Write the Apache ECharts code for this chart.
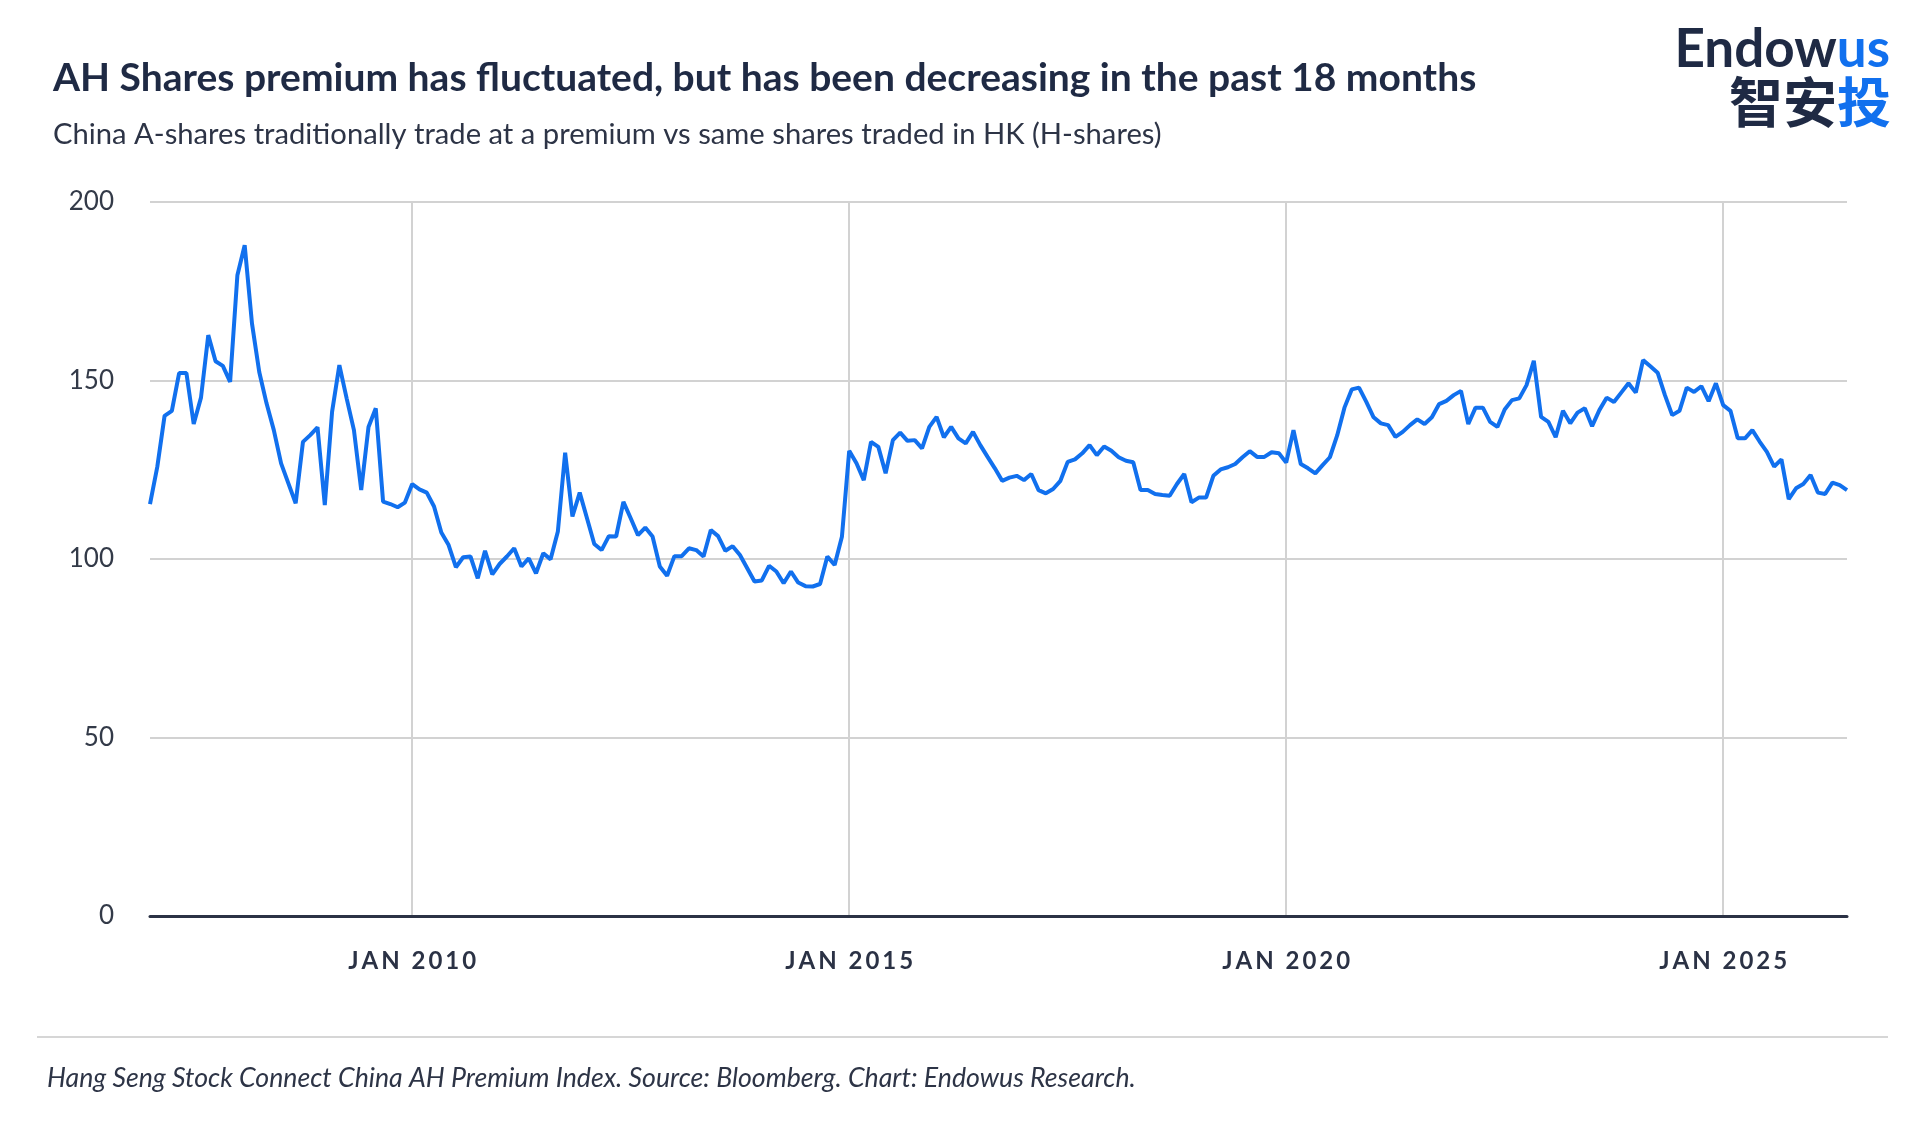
<!DOCTYPE html>
<html>
<head>
<meta charset="utf-8">
<script src="https://cdn.jsdelivr.net/npm/echarts@6/dist/echarts.min.js"></script>
<style>
html,body{margin:0;padding:0;background:#fff;}
#chart{width:1920px;height:1122px;}
</style>
</head>
<body>
<div id="chart"></div>
<script>
// ---- Data (monthly, Jan 2007 onwards) ----
const startYear = 2007;
const premium = [
115.4,125.8,140.1,141.5,152.1,152.1,137.8,145.2,162.7,155.4,154.1,149.6,
179.5,187.9,166.0,152.4,143.6,136.1,126.8,121.2,115.6,132.8,134.7,136.9,
115.1,141.2,154.3,145.0,136.1,119.3,137.0,142.2,116.1,115.4,114.5,115.8,
121.0,119.5,118.6,114.7,107.4,103.9,97.7,100.5,100.7,94.6,102.3,95.7,
98.6,100.7,103.0,97.9,100.2,96.0,101.6,99.9,107.7,129.8,111.9,118.6,
111.4,104.2,102.5,106.4,106.3,116.0,111.4,106.7,108.8,106.3,97.9,95.3,
100.8,100.8,103.0,102.5,100.7,108.1,106.4,102.3,103.6,101.1,97.4,93.7,
94.0,98.1,96.5,93.2,96.5,93.4,92.4,92.3,93.0,100.7,98.3,106.2,
130.3,126.8,122.1,132.8,131.4,124.0,133.3,135.4,133.1,133.3,131.0,137.0,
139.8,134.1,137.0,133.8,132.4,135.6,131.9,128.6,125.4,121.9,122.8,123.3,
122.1,123.8,119.3,118.4,119.6,121.9,127.2,127.9,129.6,131.9,129.1,131.5,
130.3,128.5,127.5,127.1,119.3,119.3,118.2,117.9,117.7,121.0,123.8,115.9,
117.2,117.2,123.3,125.1,125.7,126.6,128.5,130.2,128.6,128.6,129.9,129.6,
127.0,136.1,126.6,125.4,124.0,126.3,128.5,134.6,142.4,147.5,148.0,144.0,
139.7,138.0,137.5,134.2,135.6,137.5,139.1,137.8,139.7,143.4,144.3,145.9,
147.1,137.8,142.4,142.4,138.4,137.0,141.9,144.5,145.0,148.7,155.5,139.8,
138.4,134.1,141.5,138.0,141.0,142.2,137.2,141.7,145.2,144.0,146.6,149.2,
146.6,155.7,154.0,152.2,145.9,140.3,141.5,148.0,146.8,148.4,144.2,149.2,
143.1,141.5,133.8,133.8,136.1,132.9,130.0,125.9,127.9,116.8,119.8,121.0,
123.5,118.6,118.2,121.4,120.7,119.3
];
const monthNames = ['JAN','FEB','MAR','APR','MAY','JUN','JUL','AUG','SEP','OCT','NOV','DEC'];
const categories = premium.map((_, i) => {
  const y = startYear + Math.floor(i / 12);
  const m = i % 12;
  return monthNames[m] + ' ' + y;
});
const labelTicks = ['JAN 2010', 'JAN 2015', 'JAN 2020', 'JAN 2025'];
const yMin = 0, yMax = 200, yStep = 50;

const titleText = 'AH Shares premium has fluctuated, but has been decreasing in the past 18 months';
const subtitleText = 'China A-shares traditionally trade at a premium vs same shares traded in HK (H-shares)';
const footerText = 'Hang Seng Stock Connect China AH Premium Index. Source: Bloomberg. Chart: Endowus Research.';

const NAVY = '#1f2a44';
const BLUE = '#1170ee';
const GRID = '#d2d2d2';

const isLabelTick = (idx, val) => labelTicks.indexOf(val !== undefined ? val : categories[idx]) >= 0;

const chart = echarts.init(document.getElementById('chart'), null, {renderer: 'canvas'});
chart.setOption({
  animation: false,
  backgroundColor: '#ffffff',
  grid: {left: 150, right: 73, top: 202, bottom: 206, containLabel: false},
  xAxis: {
    type: 'category',
    data: categories,
    boundaryGap: false,
    axisLine: {show: true, lineStyle: {color: '#2b3245', width: 3}},
    axisTick: {show: false},
    axisLabel: {
      interval: (idx, val) => isLabelTick(idx, val),
      margin: 33,
      fontFamily: 'Lato',
      fontWeight: 'bold',
      fontSize: 24,
      color: '#2b3245',
      formatter: (val) => val.split('').join('\u2009')
    },
    splitLine: {
      show: true,
      interval: (idx, val) => isLabelTick(idx, val),
      lineStyle: {color: GRID, width: 2}
    }
  },
  yAxis: {
    type: 'value',
    min: yMin, max: yMax, interval: yStep,
    axisLine: {show: false},
    axisTick: {show: false},
    axisLabel: {margin: 36, fontFamily: 'Lato', fontSize: 26, color: '#333a48'},
    splitLine: {show: true, lineStyle: {color: GRID, width: 2}}
  },
  series: [{
    type: 'line',
    data: premium,
    showSymbol: false,
    symbol: 'none',
    lineStyle: {color: BLUE, width: 4},
    z: 5
  }],
  graphic: [
    {type: 'text', x: 53, y: 78, style: {text: titleText, font: 'bold 39px Lato', fill: NAVY, align: 'left', verticalAlign: 'middle', textAlign: 'left', textVerticalAlign: 'middle'}},
    {type: 'text', x: 53, y: 135, style: {text: subtitleText, font: '29.2px Lato', fill: '#2d3446', align: 'left', verticalAlign: 'middle', textAlign: 'left', textVerticalAlign: 'middle'}},
    {type: 'text', x: 1890, y: 50, style: {
      text: '{a|Endow}{b|us}', align: 'right', verticalAlign: 'middle', textAlign: 'right', textVerticalAlign: 'middle',
      rich: {
        a: {font: 'bold 53px Lato', fill: NAVY, color: NAVY},
        b: {font: 'bold 53px Lato', fill: BLUE, color: BLUE}
      }
    }},
    {type: 'text', x: 1891, y: 102, style: {
      text: '{a|智安}{b|投}', align: 'right', verticalAlign: 'middle', textAlign: 'right', textVerticalAlign: 'middle',
      rich: {
        a: {font: 'bold 54px "Noto Sans CJK SC"', fill: NAVY, color: NAVY},
        b: {font: 'bold 54px "Noto Sans CJK SC"', fill: BLUE, color: BLUE}
      }
    }},
    {type: 'line', shape: {x1: 37, y1: 1037, x2: 1888, y2: 1037}, style: {stroke: '#d6d6d6', lineWidth: 2}},
    {type: 'text', x: 47, y: 1078, style: {text: footerText, font: 'italic 26.7px Lato', fill: '#2d3446', align: 'left', verticalAlign: 'middle', textAlign: 'left', textVerticalAlign: 'middle'}}
  ]
});
</script>
</body>
</html>
